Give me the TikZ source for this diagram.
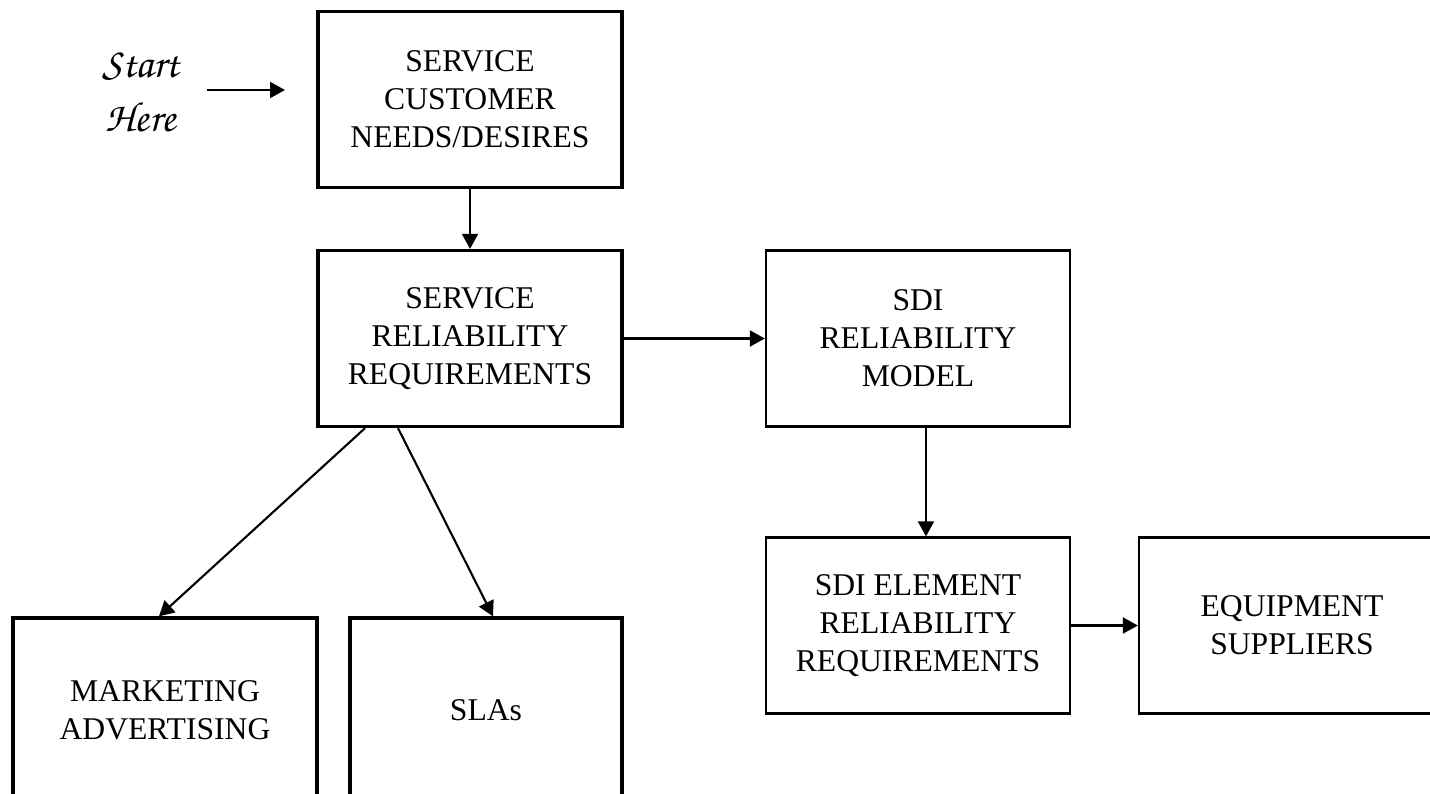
\documentclass[tikz,border=0pt]{standalone}
\usepackage[T1]{fontenc}
\usepackage{fontspec}
\setmainfont{Liberation Serif}
\usepackage{tikz}
\usetikzlibrary{positioning,arrows.meta}

% chancery hand for the entry label
\newcommand{\handfont}{\fontencoding{T1}\fontfamily{pzc}\fontseries{mb}\fontshape{it}\fontsize{24}{31}\selectfont}

\begin{document}
\begin{tikzpicture}[node distance=2cm,on grid,
  box/.style={draw,line width=1.3pt,minimum width=6.08cm,minimum height=3.52cm,
    align=center,font=\fontsize{18}{21.6}\selectfont},
  heavy/.style={box,line width=1.9pt},
  >={Triangle[length=0.3cm,width=0.32cm]}]
  \useasboundingbox (0,0) rectangle (28.6,-15.88);
  \clip (0,0) rectangle (28.6,-15.88);
  \node[heavy] (needs) at (9.4,-1.99) {SERVICE\\CUSTOMER\\NEEDS/DESIRES};
  \node[heavy] (srr) [below=4.78cm of needs] {SERVICE\\RELIABILITY\\REQUIREMENTS};
  \node[box] (model) [right=8.96cm of srr] {SDI\\RELIABILITY\\MODEL};
  \node[box] (elem) [below=5.74cm of model] {SDI ELEMENT\\RELIABILITY\\REQUIREMENTS};
  \node[box,minimum width=6.12cm] (supp) [right=7.48cm of elem] {EQUIPMENT\\SUPPLIERS};
  \node[heavy,minimum height=3.7cm] (mkt) [below left=7.44cm and 6.1cm of srr] {MARKETING\\ADVERTISING};
  \node[heavy,minimum width=5.44cm,minimum height=3.7cm] (slas) [below right=7.44cm and 0.32cm of srr] {SLAs};
  \node[text width=2cm,align=center,inner sep=0pt,font=\handfont] (start) at (2.82,-1.84) {Start\\Here};
  \coordinate (go) at (5.7,-1.8);
  \path[->,line width=1.2pt]
    (start.east |- go) edge[shorten <=3.2mm] (go)
    (needs) edge (srr)
    (srr) edge (model)
    ([xshift=-2.1cm]srr.south) edge ([xshift=-0.12cm]mkt.north)
    ([xshift=-1.44cm]srr.south) edge ([xshift=0.14cm]slas.north)
    ([xshift=0.16cm]model.south) edge ([xshift=0.16cm]elem.north)
    (elem) edge (supp);
\end{tikzpicture}
\end{document}
